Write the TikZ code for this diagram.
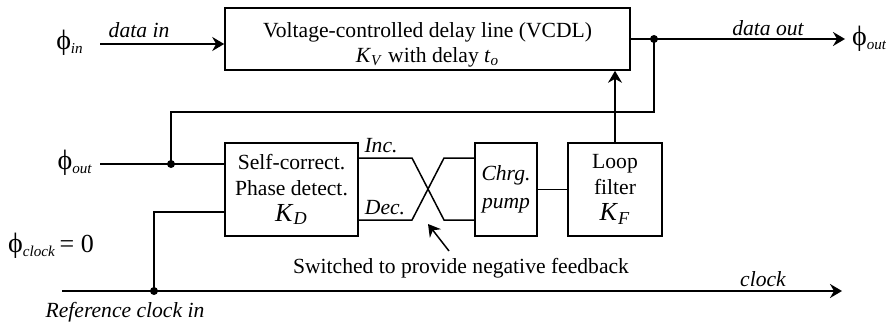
\documentclass[tikz,border=0pt]{standalone}
\usepackage{fontspec}
\setmainfont{Liberation Serif}
\usepackage{tikz}
\usetikzlibrary{arrows.meta, positioning}

\newcommand{\isub}[2]{\textit{#1}\textsubscript{\textit{#2}}}
\newcommand{\phisub}[1]{{\fontsize{14}{16}\selectfont ϕ}\textsubscript{\textit{#1}}}

\begin{document}
\begin{tikzpicture}[
    x=0.5pt, y=-0.5pt,
    every node/.style={font=\fontsize{10.8}{13}\selectfont},
    block/.style={
        rectangle,
        draw=black,
        line width=0.8pt,
        inner sep=0pt,
        minimum height=46.5pt,
        align=center
    },
    tag/.style={font=\fontsize{10.8}{13}\selectfont\itshape, inner sep=1pt},
    edge/.style={-{Stealth[length=6pt, width=7pt, inset=2pt]}, line width=1pt},
    wire/.style={line width=0.75pt},
    junction/.style={circle, fill=black, inner sep=0pt, minimum size=4pt}
]
    \useasboundingbox (0,0) rectangle (886,326);

    % Row 1: delay line
    \node[block, minimum width=202.5pt, minimum height=31pt] (vcdl) at (427.5,39) {};
    \node[align=center, font=\fontsize{10.8}{12.5}\selectfont] (vcdltxt) at (427.5,45)
        {Voltage-controlled delay line (VCDL)\\ \isub{K}{V} with delay \isub{t}{o}};

    % Row 2: detector, pump, filter
    \node[block, minimum width=66.5pt] (pd) at (291.5,189.5)
        {Self-correct.\\Phase detect.\\{\fontsize{13}{15}\selectfont\isub{K}{D}}};
    \node[block, minimum width=31pt, font=\fontsize{10.8}{14}\selectfont\itshape] (cp) at (506,189.5) {Chrg.\\pump};
    \node[block, minimum width=47pt] (lf) at (615,189.5)
        {Loop\\filter\\{\fontsize{13}{15}\selectfont\isub{K}{F}}};

    % Ports
    \node (phiin) at (70,43) {\phisub{in}};
    \node[anchor=west] (phiout) at (845,39) {\phisub{out}};
    \node[anchor=east] (phifb) at (100,163) {\phisub{out}};
    \node (phiclk) at (51,246) {\phisub{clock}\,{\fontsize{13}{15}\selectfont = 0}};
    \coordinate (din) at (100,44);
    \coordinate (tap) at (654,39);
    \coordinate (split) at (171,164);
    \coordinate (clkin) at (62,291);
    \coordinate (clkend) at (842,291);
    \coordinate (ref) at (154,291);
    \coordinate (swtip) at (428,224);

    % Data path
    \draw[edge] (din) -- (din -| vcdl.west);
    \draw[wire] (vcdl.east) -- (tap);
    \draw[edge] (tap) -- (phiout.west);
    \node[tag] (dinlbl) at (139,30) {data in};
    \node[tag] (doutlbl) at (768,28) {data out};

    % Feedback of phi_out
    \draw[wire] (tap) -- (tap |- 0,112) -| (split);
    \draw[wire] (phifb.east |- split) -- (split -| pd.west);
    \node[junction] (j1) at (tap) {};
    \node[junction] (j2) at (split) {};

    % Reference clock
    \draw[edge] (clkin) -- (clkend);
    \draw[wire] (ref) |- (pd.west |- 0,212);
    \node[junction] (j3) at (ref) {};
    \node[tag] (clklbl) at (763,279) {clock};
    \node[tag] (reflbl) at (125,312) {Reference clock in};

    % Crossed Inc./Dec. lines
    \draw[wire] (pd.east |- 0,158) -- (412,158) -- (444,220) -- (cp.west |- 0,220);
    \draw[wire] (pd.east |- 0,220) -- (412,220) -- (444,158) -- (cp.west |- 0,158);
    \node[tag] (inc) at (381,146) {Inc.};
    \node[tag] (dec) at (385,208) {Dec.};
    \node (sw) at (461,268) {Switched to provide negative feedback};
    \draw[edge, line width=0.75pt] ([xshift=-6pt]sw.north) -- (swtip);

    % Pump to filter to delay line
    \draw[wire] (cp) -- (lf);
    \draw[edge, line width=0.75pt] (lf.north) -- (lf.north |- vcdl.south);
\end{tikzpicture}
\end{document}
